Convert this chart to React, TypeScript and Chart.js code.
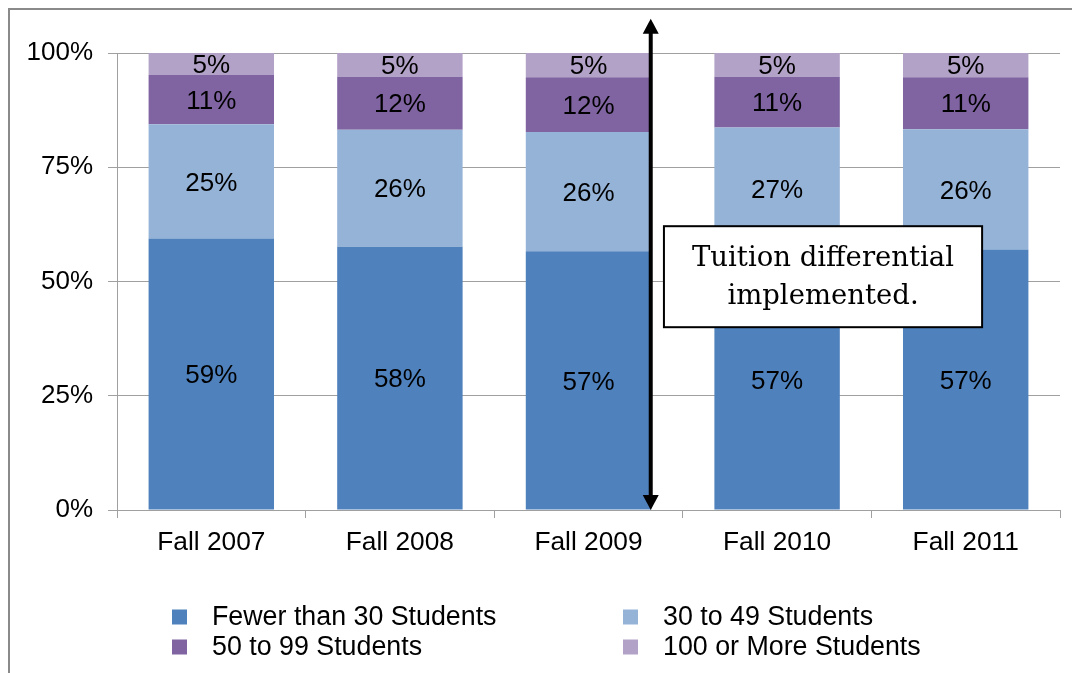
import React, { useEffect, useRef } from "react";
import { Chart, registerables } from "chart.js";

Chart.register(...registerables);

const categories = ["Fall 2007", "Fall 2008", "Fall 2009", "Fall 2010", "Fall 2011"];
const fewerThan30 = [59.4, 57.6, 56.6, 56.7, 57.0];
const from30to49 = [25.0, 25.6, 26.1, 27.0, 26.3];
const from50to99 = [10.8, 11.6, 12.0, 11.1, 11.4];
const over100 = [4.8, 5.2, 5.3, 5.2, 5.3];
const seriesNames = ["Fewer than 30 Students", "30 to 49 Students", "50 to 99 Students", "100 or More Students"];
const seriesColors = ["#4F81BD", "#95B3D7", "#8064A2", "#B3A2C7"];
const yTicks = [0, 25, 50, 75, 100];
const annotationLines = ["Tuition differential", "implemented."];

const SANS = '"Liberation Sans", Arial, sans-serif';
const GRID = "#a0a0a0";

const segLabels = {
  id: "segLabels",
  afterDatasetsDraw(chart: any) {
    const ctx = chart.ctx;
    ctx.save();
    ctx.font = `26px ${SANS}`;
    ctx.fillStyle = "#000";
    ctx.textAlign = "center";
    ctx.textBaseline = "middle";
    chart.data.datasets.forEach((ds: any, i: number) => {
      const meta = chart.getDatasetMeta(i);
      meta.data.forEach((el: any, j: number) => {
        const p = el.getProps(["x", "y", "base"], true);
        ctx.fillText(Math.round(ds.data[j]) + "%", p.x, (p.y + p.base) / 2 + 2);
      });
    });

    // annotation arrow
    const xs = chart.scales.x;
    const ys = chart.scales.y;
    const ax = xs.getPixelForValue(2.33);
    const top = ys.getPixelForValue(107.5);
    const bot = ys.getPixelForValue(0);
    const hh = 15;
    const hw = 8;
    ctx.strokeStyle = "#000";
    ctx.fillStyle = "#000";
    ctx.lineWidth = 4;
    ctx.beginPath();
    ctx.moveTo(ax, top + hh - 2);
    ctx.lineTo(ax, bot - hh + 2);
    ctx.stroke();
    ctx.beginPath();
    ctx.moveTo(ax, top);
    ctx.lineTo(ax - hw, top + hh);
    ctx.lineTo(ax + hw, top + hh);
    ctx.closePath();
    ctx.fill();
    ctx.beginPath();
    ctx.moveTo(ax, bot);
    ctx.lineTo(ax - hw, bot - hh);
    ctx.lineTo(ax + hw, bot - hh);
    ctx.closePath();
    ctx.fill();

    // annotation box
    const bl = xs.getPixelForValue(2.4);
    const br = xs.getPixelForValue(4.087);
    const bt = ys.getPixelForValue(62.1);
    const bb = ys.getPixelForValue(40.0);
    ctx.fillStyle = "#fff";
    ctx.fillRect(bl, bt, br - bl, bb - bt);
    ctx.lineWidth = 2;
    ctx.strokeStyle = "#000";
    ctx.strokeRect(bl, bt, br - bl, bb - bt);
    ctx.fillStyle = "#000";
    ctx.font = `27.5px "DejaVu Serif", serif`;
    ctx.textAlign = "center";
    ctx.textBaseline = "middle";
    const cx = (bl + br) / 2;
    const cy = (bt + bb) / 2;
    ctx.fillText(annotationLines[0], cx, cy - 18);
    ctx.fillText(annotationLines[1], cx, cy + 20);
    ctx.restore();
  },
};

const customLegend = {
  id: "customLegend",
  afterDraw(chart: any) {
    const ctx = chart.ctx;
    const area = chart.chartArea;
    ctx.save();
    ctx.font = `26.8px ${SANS}`;
    ctx.textAlign = "left";
    ctx.textBaseline = "middle";
    const colX = [area.left + 55, area.left + 506];
    const rowY = [area.bottom + 107, area.bottom + 137];
    chart.data.datasets.forEach((ds: any, i: number) => {
      const c = i % 2;
      const r = Math.floor(i / 2);
      ctx.fillStyle = ds.backgroundColor;
      ctx.fillRect(colX[c], rowY[r] - 7.5, 15, 15);
      ctx.fillStyle = "#000";
      ctx.fillText(ds.label, colX[c] + 40, rowY[r] + 1);
    });
    ctx.restore();
  },
};

export default function App() {
  const ref = useRef<HTMLCanvasElement | null>(null);

  useEffect(() => {
    document.documentElement.style.overflow = "hidden";
    document.body.style.overflow = "hidden";
    const canvas = ref.current;
    if (!canvas) return;
    const seriesData = [fewerThan30, from30to49, from50to99, over100];
    const chart = new Chart(canvas, {
      type: "bar",
      data: {
        labels: categories,
        datasets: seriesData.map((d, i) => ({
          label: seriesNames[i],
          data: d,
          backgroundColor: seriesColors[i],
          borderWidth: 0,
          barPercentage: 0.665,
          categoryPercentage: 1,
        })),
      },
      options: {
        responsive: false,
        animation: false,
        events: [],
        layout: { padding: { left: 0, right: 20, top: 43, bottom: 105 } },
        plugins: {
          legend: { display: false },
          tooltip: { enabled: false },
          title: { display: false },
        },
        scales: {
          x: {
            stacked: true,
            grid: {
              offset: true,
              drawOnChartArea: false,
              drawTicks: true,
              tickLength: 8,
              color: GRID,
            },
            border: { display: true, color: GRID, width: 1 },
            ticks: {
              color: "#000",
              font: { family: SANS, size: 26.3 },
              padding: 9,
            },
            afterFit: (s: any) => {
              s.height = 50;
            },
          },
          y: {
            stacked: true,
            min: 0,
            max: 100,
            afterBuildTicks: (s: any) => {
              s.ticks = yTicks.map((v) => ({ value: v }));
            },
            grid: {
              color: GRID,
              tickLength: 9,
              drawTicks: true,
            },
            border: { display: true, color: GRID, width: 1 },
            ticks: {
              color: "#000",
              font: { family: SANS, size: 26 },
              padding: 15,
              callback: (v: any) => v + "%",
            },
            afterFit: (s: any) => {
              s.width = 107;
            },
          },
        },
      },
      plugins: [segLabels, customLegend],
    });
    return () => chart.destroy();
  }, []);

  return (
    <div
      style={{
        width: 1072,
        height: 665,
        boxSizing: "border-box",
        borderTop: "2px solid #8a8a8a",
        borderLeft: "2px solid #8a8a8a",
        background: "#fff",
        overflow: "hidden",
      }}
    >
      <canvas ref={ref} width={1070} height={655} style={{ display: "block", width: 1070, height: 655 }} />
    </div>
  );
}
